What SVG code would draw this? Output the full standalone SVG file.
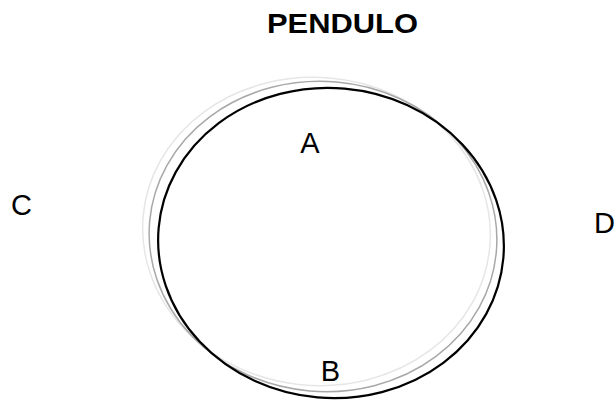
<svg xmlns="http://www.w3.org/2000/svg" width="614" height="401" viewBox="0 0 614 401">
<style>
.lbl{font-family:"Liberation Sans",Arial,sans-serif;font-size:29px;fill:#000}
.title{font-family:"Liberation Sans",Arial,sans-serif;font-size:28px;font-weight:bold;fill:#000}
.e{fill:none}
</style>
<rect width="614" height="401" fill="#fff"/>
<text class="title" x="267" y="33" textLength="151" lengthAdjust="spacingAndGlyphs">PENDULO</text>
<g id="ellipses">
<ellipse id="ghost2" class="e" cx="316.5" cy="231.5" rx="174" ry="154" transform="rotate(5 316.5 231.5)" stroke="#e6e6e6" stroke-width="1.5"/>
<ellipse id="ghost1" class="e" cx="323" cy="236.5" rx="174" ry="155" transform="rotate(5 323 236.5)" stroke="#a8a8a8" stroke-width="1.5"/>
<ellipse id="swing" class="e" cx="331" cy="243" rx="173" ry="155" transform="rotate(5 331 243)" stroke="#000" stroke-width="2.2"/>
</g>
<g id="A"><text class="lbl" x="310" y="153" text-anchor="middle">A</text></g>
<g id="B"><text class="lbl" x="330.5" y="381" text-anchor="middle">B</text></g>
<g id="C"><text class="lbl" x="11" y="215">C</text></g>
<g id="D"><text class="lbl" x="594" y="233">D</text></g>
</svg>
